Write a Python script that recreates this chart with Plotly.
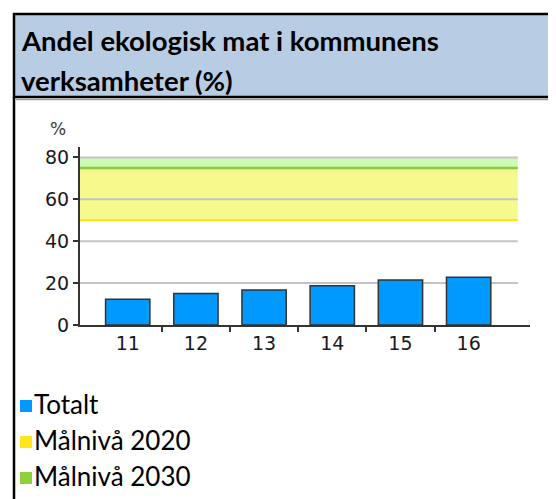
import plotly.graph_objects as go

# ---- data ----
categories = ["11", "12", "13", "14", "15", "16"]
totalt = [12.3, 15.1, 16.7, 18.8, 21.5, 22.8]
malniva_2020 = [50, 75]   # yellow band (low, high)
malniva_2030 = [75, 80]   # green band (low, high)
y_ticks = [0, 20, 40, 60, 80]
legend_labels = ["Totalt", "Målnivå 2020", "Målnivå 2030"]
title_lines = ["Andel ekologisk mat i kommunens", "verksamheter (%)"]

W, H = 556, 499
OFF = 8  # browser default body margin
PLOT_L, PLOT_R, PLOT_T, PLOT_B = 80, 530, 147, 325  # target page pixels
ML = PLOT_L - OFF
MT = PLOT_T - OFF
PW = PLOT_R - PLOT_L
PH = PLOT_B - PLOT_T
MR = W - ML - PW
MB = H - MT - PH
XR = [-0.7, 5.9]
X_GRID_END = 5.72


def px(x):
    return (x - OFF - ML) / PW


def py(y):
    return (MT + PH - (y - OFF)) / PH


BLUE = "#0099FF"
YELLOW_FILL = "#F6F98C"
YELLOW_LINE = "#FFE31A"
GREEN_FILL = "#CCFBB4"
GREEN_LINE = "#8CCB3C"
GRID = "#C4C4C4"
AXIS = "#333333"

xs = list(range(len(categories)))

fig = go.Figure()
fig.add_trace(go.Bar(
    x=xs, y=totalt, width=0.65,
    marker=dict(color=BLUE, line=dict(color="#333333", width=1.5)),
    showlegend=False, hoverinfo="skip",
))

shapes = []
# bands
shapes.append(dict(type="rect", xref="x", yref="y", x0=XR[0], x1=X_GRID_END,
                   y0=malniva_2030[0], y1=malniva_2030[1], fillcolor=GREEN_FILL,
                   line=dict(width=0), layer="below"))
shapes.append(dict(type="rect", xref="x", yref="y", x0=XR[0], x1=X_GRID_END,
                   y0=malniva_2020[0], y1=malniva_2020[1], fillcolor=YELLOW_FILL,
                   line=dict(width=0), layer="below"))
# gridlines
for v in y_ticks[1:]:
    shapes.append(dict(type="line", xref="x", yref="y", x0=XR[0], x1=X_GRID_END,
                       y0=v, y1=v, line=dict(color=GRID, width=2), layer="below"))
shapes.append(dict(type="line", xref="x", yref="y", x0=XR[0], x1=X_GRID_END,
                   y0=malniva_2020[0], y1=malniva_2020[0],
                   line=dict(color=YELLOW_LINE, width=2), layer="below"))
shapes.append(dict(type="line", xref="x", yref="y", x0=XR[0], x1=X_GRID_END,
                   y0=malniva_2030[0], y1=malniva_2030[0],
                   line=dict(color=GREEN_LINE, width=2.5), layer="below"))

# title box
shapes.append(dict(type="rect", xref="paper", yref="paper",
                   x0=px(14), x1=px(W + 20), y0=py(97), y1=py(14),
                   fillcolor="#B8CCE4", line=dict(color="#000000", width=2.5),
                   layer="below"))
shapes.append(dict(type="line", xref="paper", yref="paper",
                   x0=px(16), x1=px(W + 20), y0=py(99.5), y1=py(99.5),
                   line=dict(color="#9A9A9A", width=1.5), layer="below"))
# left border continuing down
shapes.append(dict(type="line", xref="paper", yref="paper",
                   x0=px(14), x1=px(14), y0=py(97), y1=py(H + 20),
                   line=dict(color="#000000", width=2.5), layer="below"))

# legend squares
leg_colors = [BLUE, "#FFE619", "#8FD13B"]
leg_y = [404, 440, 476]
for c, yy in zip(leg_colors, leg_y):
    shapes.append(dict(type="rect", xref="paper", yref="paper",
                       x0=px(20), x1=px(32), y0=py(yy + 8), y1=py(yy - 4),
                       fillcolor=c, line=dict(width=0)))

annotations = []
annotations.append(dict(text="%", xref="paper", yref="paper", x=px(58), y=py(129),
                        xanchor="center", yanchor="middle", showarrow=False,
                        font=dict(family="DejaVu Sans", size=17, color="#3a3a3a")))
for t, yy in zip(title_lines, [40, 80]):
    annotations.append(dict(text="<b>%s</b>" % t, xref="paper", yref="paper",
                            x=px(19), y=py(yy), xanchor="left", yanchor="middle",
                            showarrow=False,
                            font=dict(family="Lato", size=27.5, color="#000000")))
for t, yy in zip(legend_labels, leg_y):
    annotations.append(dict(text=t, xref="paper", yref="paper",
                            x=px(32), y=py(yy), xanchor="left", yanchor="middle",
                            showarrow=False,
                            font=dict(family="Lato", size=26, color="#000000")))

fig.update_layout(
    width=W, height=H,
    margin=dict(l=ML, r=MR, t=MT, b=MB),
    paper_bgcolor="white", plot_bgcolor="rgba(0,0,0,0)",
    shapes=shapes, annotations=annotations,
    xaxis=dict(range=XR, tickmode="array", tickvals=xs, ticktext=categories,
               ticks="", showgrid=False, zeroline=False,
               showline=True, linecolor=AXIS, linewidth=2,
               tickfont=dict(family="DejaVu Sans", size=19, color="#1a1a1a"),
               minor=dict(tickmode="array", tickvals=[i + 0.5 for i in xs[:-1]],
                          ticks="outside", ticklen=5, tickwidth=2, tickcolor=AXIS,
                          showgrid=False),
               fixedrange=True),
    yaxis=dict(range=[0, 85], tickmode="array", tickvals=y_ticks,
               ticks="outside", ticklen=5, tickwidth=1.5, tickcolor=AXIS,
               showgrid=False, zeroline=False,
               showline=True, linecolor=AXIS, linewidth=2,
               tickfont=dict(family="DejaVu Sans", size=19, color="#1a1a1a"),
               fixedrange=True),
)

fig.write_html("out.html")
